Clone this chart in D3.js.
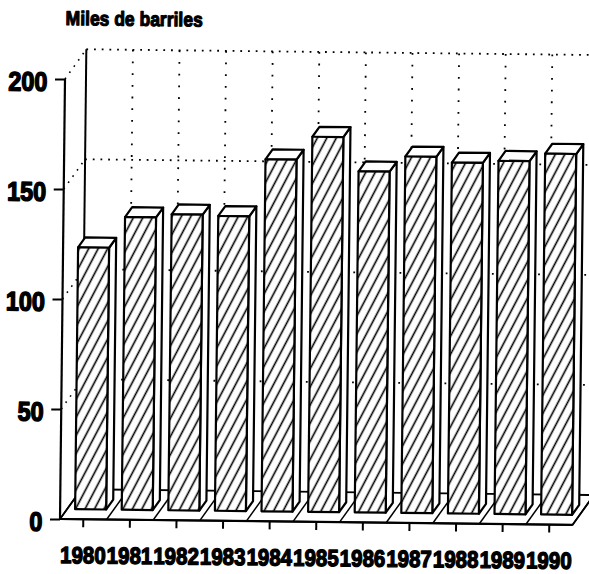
<!DOCTYPE html>
<html>
<head>
<meta charset="utf-8">
<script src="https://cdn.jsdelivr.net/npm/d3@7/dist/d3.min.js"></script>
<style>
  html, body { margin: 0; padding: 0; background: #fff; }
  svg { display: block; }
  text { font-family: "Liberation Sans", Arial, sans-serif; font-weight: bold; fill: #000;
         stroke: #000; stroke-linejoin: round; }
</style>
</head>
<body>
<svg id="chart" width="589" height="574"></svg>
<script>
// Oil output per year, thousands of barrels
const years = ["1980", "1981", "1982", "1983", "1984", "1985", "1986", "1987", "1988", "1989", "1990"];
const values = [119, 133, 134.5, 134, 160, 170.5, 155, 162, 159.5, 160.5, 164];
const yTicks = [0, 50, 100, 150, 200];
const yTitle = "Miles de barriles";

const svg = d3.select("#chart");

// 3D projection: full floor depth and the bars sit in its middle third
const depthX = 21, depthY = -30;
const barFrontX = depthX / 3, barFrontY = depthY / 3;

const x = d3.scaleBand().domain(years).range([60, 572.6]).padding(0);
const y = d3.scaleLinear().domain([0, 200]).range([519, 79]);

const bw = x.bandwidth();
const barGap = bw * 0.172;
const barW = bw * 0.665;

// diagonal hatching for the bar fronts
const defs = svg.append("defs");
const pat = defs.append("pattern")
  .attr("id", "hatch")
  .attr("patternUnits", "userSpaceOnUse")
  .attr("width", 8.4).attr("height", 8.4)
  .attr("patternTransform", "rotate(27)");
pat.append("rect").attr("width", 8.4).attr("height", 8.4).attr("fill", "#fff");
pat.append("line")
  .attr("x1", 4.2).attr("y1", -1).attr("x2", 4.2).attr("y2", 9.4)
  .attr("stroke", "#000").attr("stroke-width", 1.6);

// the whole drawing is tilted a little
const g = svg.append("g").attr("transform", "rotate(0.65 60 519)");

const x0 = x.range()[0], x1 = x.range()[1];
const y0 = y(0);

// back wall: dotted gridlines
const gridVals = yTicks.filter(v => v > 0);
g.append("g").selectAll("line").data(gridVals).join("line")
  .attr("x1", x0 + depthX).attr("x2", x1 + depthX)
  .attr("y1", d => y(d) + depthY).attr("y2", d => y(d) + depthY)
  .attr("stroke", "#000").attr("stroke-width", 1.8)
  .attr("stroke-dasharray", "1.8,5.9");

// side: dotted diagonals from the front axis to the back wall
g.append("g").selectAll("line").data(gridVals).join("line")
  .attr("x1", x0).attr("y1", d => y(d))
  .attr("x2", x0 + depthX).attr("y2", d => y(d) + depthY)
  .attr("stroke", "#000").attr("stroke-width", 1.6)
  .attr("stroke-dasharray", "1.6,6");

// back wall: dotted verticals at category boundaries
const bounds = years.map(d => x(d)).concat([x1]);
g.append("g").selectAll("line").data(bounds.slice(1)).join("line")
  .attr("x1", d => d + depthX).attr("x2", d => d + depthX)
  .attr("y1", y(200) + depthY).attr("y2", y0 + depthY)
  .attr("stroke", "#000").attr("stroke-width", 1.8)
  .attr("stroke-dasharray", "1.8,9.9");

// back wall left edge
g.append("line")
  .attr("x1", x0 + depthX).attr("x2", x0 + depthX)
  .attr("y1", y(200) + depthY).attr("y2", y0 + depthY)
  .attr("stroke", "#000").attr("stroke-width", 2);

// floor
g.append("polygon")
  .attr("points", [[x0, y0], [x1, y0], [x1 + depthX, y0 + depthY], [x0 + depthX, y0 + depthY]].map(p => p.join(",")).join(" "))
  .attr("fill", "#fff").attr("stroke", "#000").attr("stroke-width", 1.8);
g.append("g").selectAll("line").data(bounds).join("line")
  .attr("x1", d => d).attr("y1", y0)
  .attr("x2", d => d + depthX).attr("y2", y0 + depthY)
  .attr("stroke", "#000").attr("stroke-width", 1.5);

// bars
const bars = g.append("g").selectAll("g").data(years.map((yr, i) => ({ yr, v: values[i] }))).join("g");
const pts = a => a.map(p => p.join(",")).join(" ");
bars.each(function (d) {
  const L = x(d.yr) + barFrontX + barGap;
  const R = L + barW;
  const yb = y(0) + barFrontY;
  const yt = y(d.v) + barFrontY;
  const sel = d3.select(this);
  const style = s => s.attr("stroke", "#000").attr("stroke-width", 2.2).attr("stroke-linejoin", "round");
  style(sel.append("polygon")
    .attr("points", pts([[R, yb], [R + barFrontX, yb + barFrontY], [R + barFrontX, yt + barFrontY], [R, yt]]))
    .attr("fill", "#fff"));
  style(sel.append("polygon")
    .attr("points", pts([[L, yt], [R, yt], [R + barFrontX, yt + barFrontY], [L + barFrontX, yt + barFrontY]]))
    .attr("fill", "#fff"));
  style(sel.append("polygon")
    .attr("points", pts([[L, yb], [R, yb], [R, yt], [L, yt]]))
    .attr("fill", "url(#hatch)"));
});

// front value axis
g.append("line")
  .attr("x1", x0).attr("x2", x0).attr("y1", y0).attr("y2", y(200))
  .attr("stroke", "#000").attr("stroke-width", 2.2);
g.append("line")
  .attr("x1", x0).attr("x2", x1).attr("y1", y0).attr("y2", y0)
  .attr("stroke", "#000").attr("stroke-width", 2.2);

const yAxis = d3.axisLeft(y).tickValues(yTicks).tickSize(10).tickFormat(d3.format("d")).tickPadding(0);
const ya = g.append("g").attr("transform", `translate(${x0},0)`).call(yAxis);
ya.select(".domain").remove();
ya.selectAll(".tick line").attr("stroke", "#000").attr("stroke-width", 2);
ya.selectAll(".tick text")
  .attr("x", null).attr("dy", null)
  .attr("text-anchor", "end")
  .attr("font-size", 23.5)
  .attr("stroke-width", 1.3)
  .attr("transform", "translate(-17.5,11.5) scale(1,1.14)");

const xAxis = d3.axisBottom(x).tickSize(8).tickPadding(0);
const xa = g.append("g").attr("transform", `translate(0,${y0})`).call(xAxis);
xa.select(".domain").remove();
xa.selectAll(".tick line").attr("stroke", "#000").attr("stroke-width", 2);
xa.selectAll(".tick text")
  .attr("y", null).attr("dy", null)
  .attr("text-anchor", "middle")
  .attr("font-size", 20.5)
  .attr("stroke-width", 1.2)
  .attr("transform", "translate(0,44) scale(1,1.14)");

// axis title
g.append("text")
  .attr("transform", "translate(60,25) scale(1,1.14)")
  .attr("font-size", 17.5)
  .attr("stroke-width", 1)
  .text(yTitle);
</script>
</body>
</html>
